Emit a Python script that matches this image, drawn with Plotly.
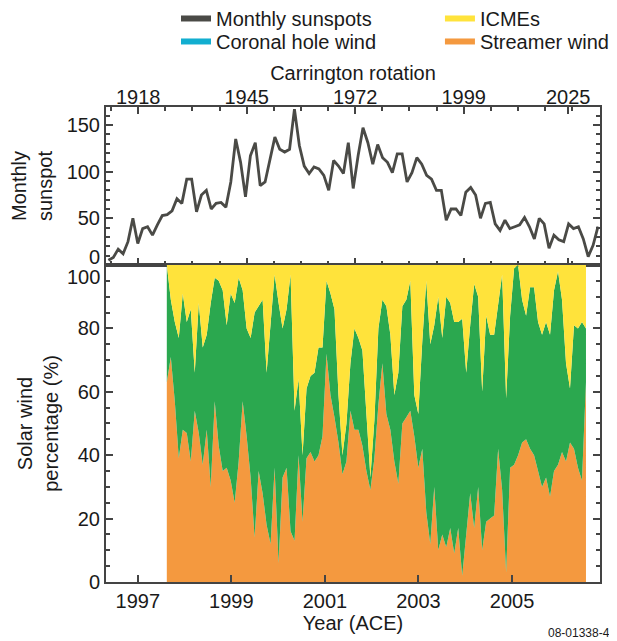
import numpy as np
import plotly.graph_objects as go

# Top panel: monthly sunspot number, sampled along Carrington rotation
sunspots = [5, 8, 17, 12, 25, 50, 23, 39, 41, 32, 43, 53, 54, 58, 71, 66, 92, 92, 57, 75,
            80, 60, 66, 67, 62, 89, 135, 110, 73, 117, 131, 85, 89, 114, 137, 124, 121, 124, 167, 128,
            106, 98, 105, 103, 96, 80, 112, 106, 98, 131, 82, 117, 147, 131, 108, 129, 115, 110, 99, 119,
            119, 89, 99, 115, 108, 96, 92, 80, 80, 48, 60, 60, 53, 78, 83, 75, 50, 66, 67, 44,
            37, 48, 39, 41, 43, 51, 41, 28, 50, 44, 18, 32, 27, 25, 44, 39, 41, 28, 9, 21, 41]
first_rotation, last_rotation = 1910.6, 2032.4
rotation_ticks = [1918, 1945, 1972, 1999, 2025]

# Bottom panel: solar wind type percentages (ACE)
streamer_wind = [63, 71, 57, 39, 48, 47, 38, 54, 47, 37, 48, 30, 57, 43, 35, 36, 32, 25, 38, 57,
                 46, 33, 14, 35, 28, 18, 12, 36, 6, 33, 36, 16, 13, 40, 19, 39, 41, 38, 40, 46,
                 72, 59, 52, 44, 34, 38, 54, 48, 48, 43, 35, 29, 39, 56, 69, 53, 48, 38, 31, 50,
                 52, 54, 46, 36, 42, 22, 12, 30, 10, 15, 11, 17, 9, 17, 2, 15, 28, 17, 30, 10,
                 19, 20, 21, 42, 29, 3, 36, 37, 40, 44, 45, 42, 40, 35, 30, 33, 27, 35, 37, 41,
                 38, 44, 42, 36, 32, 63]
coronal_hole_wind = [37, 18, 25, 38, 43, 35, 48, 12, 41, 37, 30, 58, 39, 52, 57, 45, 59, 63, 58, 35,
                     34, 44, 71, 52, 61, 48, 69, 61, 82, 47, 50, 81, 41, 24, 21, 22, 24, 28, 34, 28,
                     23, 32, 34, 15, 6, 12, 15, 32, 29, 30, 18, 4, 12, 24, 20, 34, 30, 21, 35, 37,
                     37, 41, 13, 17, 34, 73, 63, 51, 80, 62, 79, 71, 73, 65, 81, 51, 53, 77, 60, 50,
                     65, 58, 57, 46, 68, 55, 48, 62, 60, 45, 39, 51, 53, 47, 48, 49, 51, 57, 61, 48,
                     31, 17, 39, 44, 50, 17]
icmes = [0, 11, 18, 23, 9, 18, 14, 34, 12, 26, 22, 12, 4, 5, 8, 19, 9, 12, 4, 8,
         20, 23, 15, 13, 11, 34, 19, 3, 12, 20, 14, 3, 46, 36, 60, 39, 35, 34, 26, 26,
         5, 9, 14, 41, 60, 50, 31, 20, 23, 27, 47, 67, 49, 20, 11, 13, 22, 41, 34, 13,
         11, 5, 41, 47, 24, 5, 25, 19, 10, 23, 10, 12, 18, 18, 17, 34, 19, 6, 10, 40,
         16, 22, 22, 12, 3, 42, 16, 1, 0, 11, 16, 7, 7, 18, 22, 18, 22, 8, 2, 11,
         31, 39, 19, 20, 18, 20]
first_year, last_year = 1997.62, 2006.58
year_ticks = [1997, 1999, 2001, 2003, 2005]

SUN_COLOR = "#4a4a46"
ICME_COLOR = "#FFE33B"
CH_COLOR = "#2BA84F"
CH_LEGEND_COLOR = "#12AED0"
STREAMER_COLOR = "#F4993F"
AXIS_COLOR = "#444444"
FONT = "Liberation Sans, Arial, sans-serif"

rotations = np.linspace(first_rotation, last_rotation, len(sunspots))
years = np.linspace(first_year, last_year, len(streamer_wind))

fig = go.Figure()

# sunspot line
fig.add_trace(go.Scatter(x=rotations, y=sunspots, mode="lines", xaxis="x", yaxis="y",
                         line=dict(color=SUN_COLOR, width=2.8), showlegend=False))

# stacked solar wind areas
for vals, col in [(streamer_wind, STREAMER_COLOR), (coronal_hole_wind, CH_COLOR), (icmes, ICME_COLOR)]:
    fig.add_trace(go.Scatter(x=years, y=vals, mode="lines", stackgroup="wind",
                             xaxis="x2", yaxis="y2", line=dict(width=0, color=col),
                             fillcolor=col, showlegend=False))

# legend entries, one small legend per cell of the 2x2 key
for name, col, leg in [("Monthly sunspots", SUN_COLOR, "legend"),
                       ("ICMEs", ICME_COLOR, "legend2"),
                       ("Coronal hole wind", CH_LEGEND_COLOR, "legend3"),
                       ("Streamer wind", STREAMER_COLOR, "legend4")]:
    fig.add_trace(go.Scatter(x=[None], y=[None], mode="lines", name=name, legend=leg,
                             line=dict(color=col, width=6), xaxis="x", yaxis="y"))

split = 0.6674
axis_common = dict(showline=True, linecolor=AXIS_COLOR, linewidth=2, showgrid=False,
                   zeroline=False, ticks="inside", tickcolor=AXIS_COLOR, tickwidth=1.5,
                   ticklen=7, tickfont=dict(size=20))
legend_common = dict(orientation="v", xanchor="left", yanchor="top", traceorder="normal",
                     bgcolor="rgba(0,0,0,0)", font=dict(size=20), itemwidth=30)
row1, row2 = 1.2274, 1.179
col1, col2 = 0.1417, 0.676

fig.update_layout(
    width=609, height=633, template="none",
    paper_bgcolor="white", plot_bgcolor="white",
    font=dict(family=FONT, size=20, color="#1a1a1a"),
    margin=dict(l=98, r=17, t=99, b=59, autoexpand=False),
    legend=dict(x=col1, y=row1, **legend_common),
    legend2=dict(x=col2, y=row1, **legend_common),
    legend3=dict(x=col1, y=row2, **legend_common),
    legend4=dict(x=col2, y=row2, **legend_common),
    xaxis=dict(domain=[0, 1], anchor="y", side="top", range=[1910.0, 2032.9],
               tickmode="array", tickvals=rotation_ticks, mirror="ticks",
               ticklabelstandoff=-7,
               minor=dict(tickmode="linear", tick0=1918, dtick=6.75, ticks="inside",
                          ticklen=4, tickcolor=AXIS_COLOR),
               title=dict(text="Carrington rotation", standoff=0, font=dict(size=20)),
               **axis_common),
    yaxis=dict(domain=[split, 1], anchor="x", range=[0, 169.3],
               tickmode="array", tickvals=[50, 100, 150], mirror="ticks",
               minor=dict(tickmode="linear", tick0=0, dtick=10, ticks="inside",
                          ticklen=4, tickcolor=AXIS_COLOR),
               title=dict(text="Monthly<br>sunspot", standoff=14, font=dict(size=20)),
               **axis_common),
    xaxis2=dict(domain=[0, 1], anchor="y2", range=[1996.32, 2006.88],
                tickmode="array", tickvals=year_ticks, mirror=True,
                title=dict(text="Year (ACE)", standoff=4, font=dict(size=20)),
                **axis_common),
    yaxis2=dict(domain=[0, split], anchor="x2", range=[0, 100],
                tickmode="array", tickvals=[0, 20, 40, 60, 80], mirror="ticks",
                minor=dict(tickmode="linear", tick0=0, dtick=5, ticks="inside",
                           ticklen=4, tickcolor=AXIS_COLOR),
                title=dict(text="Solar wind<br>percentage (%)", standoff=14, font=dict(size=20)),
                **axis_common),
    annotations=[
        # labels nudged off the shared panel border, as in the original
        dict(text="0", xref="paper", yref="y", x=0, y=0, xanchor="right", yanchor="middle",
             xshift=-4, yshift=8, showarrow=False, font=dict(size=20)),
        dict(text="100", xref="paper", yref="y2", x=0, y=100, xanchor="right", yanchor="middle",
             xshift=-4, yshift=-12, showarrow=False, font=dict(size=20)),
        dict(text="08-01338-4", xref="paper", yref="paper", x=1.024, y=-0.107,
             xanchor="right", yanchor="middle", showarrow=False, font=dict(size=12)),
    ],
)

fig.write_html("out.html")
